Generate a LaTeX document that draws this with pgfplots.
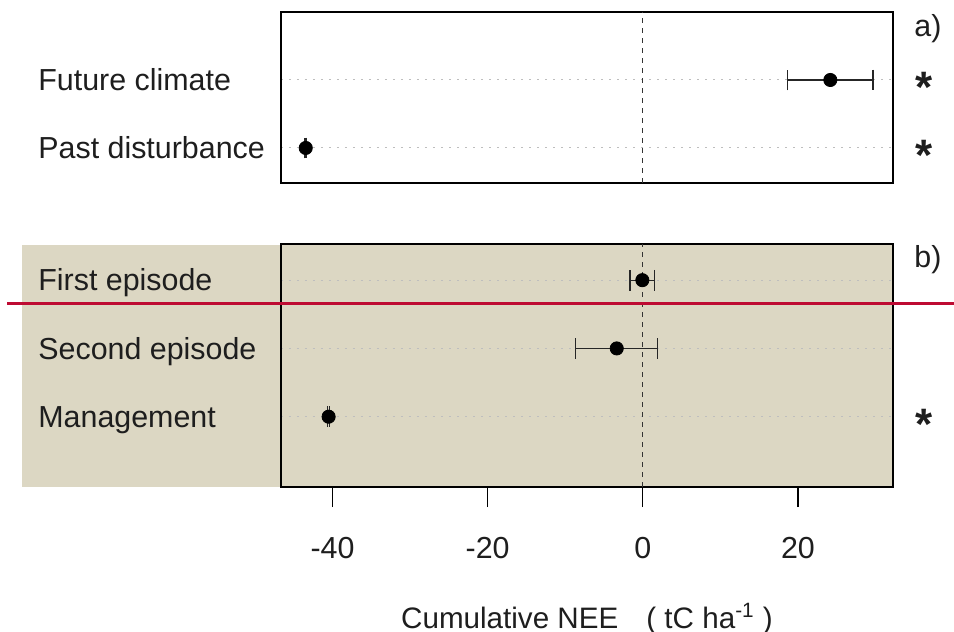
\documentclass[border=0pt]{standalone}
\usepackage{fontspec}
\setmainfont{Liberation Sans}
\usepackage{pgfplots}
\pgfplotsset{compat=1.18}

\definecolor{panelbg}{RGB}{220,215,195}
\definecolor{cutline}{RGB}{190,10,50}
\definecolor{gridgrey}{RGB}{190,190,190}
\definecolor{ink}{RGB}{30,30,30}

% 1 px of the reference = 0.5pt
\pgfplotsset{
  nee/.style={
    scale only axis,
    width=306pt,
    xmin=-46.64, xmax=32.25,
    axis line style={black, line width=1pt},
    tick align=outside, major tick length=10pt,
    ymajorgrids,
    grid style={gridgrey, line width=0.5pt, dash pattern=on 1pt off 3pt},
    ytick style={draw=none},
    yticklabel style={anchor=base west, inner sep=0pt, xshift=-111.5pt, yshift=-5.4pt},
    tick label style={text=ink},
    clip=false,
  },
  dot/.style={
    black, mark=*, mark size=3.3pt, only marks,
    error bars/.cd, x dir=both, x explicit, error mark=|,
    error bar style={line width=0.6pt, black!85},
    error mark options={line width=0.6pt, black!85, mark size=5.2pt},
  },
}
\tikzset{signif/.style={font=\fontsize{22}{22}\selectfont\bfseries, text=ink, anchor=base, inner sep=0pt, xshift=15.5pt, yshift=-11.5pt}}

\begin{document}
\begin{tikzpicture}[font=\fontsize{15.2}{18}\selectfont]
\useasboundingbox (0,0) rectangle (477pt,316pt);

% shaded band behind panel b
\fill[panelbg] (11pt,72.5pt) rectangle (446.5pt,193.5pt);

% panel a
\begin{axis}[nee,
  at={(140.5pt,224.5pt)}, anchor=south west,
  height=85.5pt,
  ymin=0.485, ymax=3.0,
  ytick={1,2}, yticklabels={Past disturbance, Future climate},
  xtick=\empty,
]
\addplot[black!80, line width=0.5pt, dash pattern=on 2.5pt off 2.5pt] coordinates {(0,0.485) (0,3.0)};
\addplot[dot] coordinates {
  (-43.45,1) +- (0.1,0)
  (24.17,2)  +- (5.5,0)
};
\node[anchor=base west, inner sep=0pt, text=ink] at (axis cs:32.25,3.0) [xshift=10.5pt, yshift=-12.5pt] {a)};
\node[signif] at (axis cs:32.25,2) {*};
\node[signif] at (axis cs:32.25,1) {*};
\end{axis}

% panel b
\begin{axis}[nee,
  at={(140.5pt,72.5pt)}, anchor=south west,
  height=121.5pt,
  ymin=-0.03, ymax=3.53,
  ytick={1,2,3}, yticklabels={Management, Second episode, First episode},
  xtick={-40,-20,0,20}, xticklabels={-40,-20,0,20},
  xtick pos=bottom,
  xtick style={black, line width=0.6pt},
  xticklabel style={anchor=north, inner sep=0pt},
  xticklabel shift=15pt,
  xlabel={Cumulative NEE\hspace{0.95em}( tC ha\textsuperscript{-1} )},
  xlabel style={at={(axis description cs:0.5,0)}, anchor=base, inner sep=0pt, yshift=-70.5pt, text=ink, font=\fontsize{14.8}{18}\selectfont},
]
\addplot[black!80, line width=0.5pt, dash pattern=on 2.5pt off 2.5pt] coordinates {(0,-0.03) (0,3.53)};
\addplot[dot] coordinates {
  (-40.5,1) +- (0.1,0)
  (-3.36,2) +- (5.3,0)
  (-0.06,3) +- (1.6,0)
};
\node[anchor=base west, inner sep=0pt, text=ink] at (axis cs:32.25,3.53) [xshift=10.5pt, yshift=-12pt] {b)};
\node[signif] at (axis cs:32.25,1) {*};
\end{axis}

% red cut line
\draw[cutline, line width=1.5pt] (3.5pt,164.2pt) -- (477pt,164.2pt);
\end{tikzpicture}
\end{document}
